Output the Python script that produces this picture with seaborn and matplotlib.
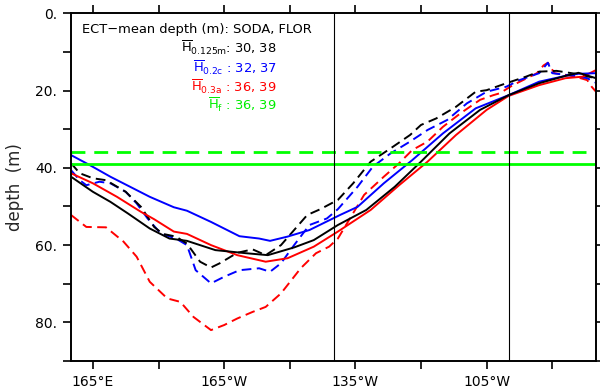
import matplotlib
matplotlib.use("Agg")
import matplotlib.pyplot as plt
import seaborn as sns
import pandas as pd

# ---------------- data (longitude in degrees east, depth in m) ----------------
lon_flor_h0125 = [160, 165, 169, 173, 178, 182.5, 186.5, 193, 200, 205, 211, 215.5, 221,
                  227.5, 234, 240, 246.5, 253.5, 260, 267, 273, 276, 280]
dep_flor_h0125 = [42.3, 46.2, 48.8, 51.8, 55.7, 58.3, 58.9, 61.3, 62.1, 62.6, 60.6, 58.7, 54.8,
                  50.9, 44.9, 38.4, 31.1, 25.0, 21.2, 18.1, 16.2, 15.4, 16.8]

lon_flor_h02c = [160, 164.3, 169, 173.5, 178, 183.5, 186.5, 192, 198.5, 203, 205.5, 209.5, 214.5,
                 221.5, 225.5, 231.5, 238, 245, 252.5, 260, 267, 275, 280]
dep_flor_h02c = [36.7, 39.3, 42.3, 44.9, 47.5, 50.2, 51.1, 54.0, 57.7, 58.3, 58.9, 57.8, 56.1,
                 52.2, 50.1, 44.0, 38.0, 31.1, 24.6, 21.2, 17.7, 15.7, 15.5]

lon_flor_h03a = [160, 165, 170.5, 176, 179, 183.5, 186.5, 192, 198, 204.5, 209.5, 215.5, 221,
                 228.5, 235, 241.5, 248, 255, 260, 267, 273, 277, 280]
dep_flor_h03a = [41.4, 44.0, 47.5, 51.4, 53.3, 56.5, 57.1, 60.0, 62.6, 64.3, 63.4, 60.4, 56.5,
                 50.9, 44.5, 38.4, 31.5, 25.0, 21.4, 18.6, 16.8, 16.4, 14.7]

lon_soda_h0125 = [160, 162, 165, 168, 172.5, 176, 179, 181, 184, 186.5, 189.5, 192, 194, 198,
                  201.5, 204.5, 208, 214, 217, 221, 224.5, 228.5, 233, 237.5, 240, 243.5, 248,
                  252.5, 255, 259.5, 264, 267, 271, 275, 280]
dep_soda_h0125 = [38.8, 41.4, 42.7, 43.2, 46.2, 50.1, 55.3, 57.1, 57.8, 59.6, 64.3, 65.8, 64.7, 62.0,
                  61.1, 62.6, 60.0, 52.2, 50.7, 48.3, 44.0, 38.4, 35.0, 31.5, 28.9, 27.2, 24.2,
                  20.3, 19.9, 18.1, 16.4, 15.1, 14.9, 15.6, 16.8]

lon_soda_h02c = [160, 162, 163.5, 166.5, 169, 172.5, 175, 177.5, 180.5, 184, 186.5, 188.5, 192,
                 195, 198.5, 203, 205.5, 208, 211, 214.5, 218.5, 221, 225.5, 229, 233, 237.5,
                 241.5, 246, 250.5, 255, 259.5, 262.5, 267, 269, 270, 275, 278, 280]
dep_soda_h02c = [40.6, 43.2, 44.5, 43.6, 44.0, 46.2, 49.2, 53.1, 57.0, 58.3, 60.0, 66.5, 69.9,
                 68.2, 66.5, 66.0, 66.9, 64.7, 60.0, 54.8, 53.1, 50.7, 44.9, 39.7, 36.3, 33.2,
                 30.2, 27.6, 23.3, 20.3, 19.0, 17.3, 15.5, 12.8, 15.5, 16.2, 16.8, 18.0]

lon_soda_h03a = [160, 163.5, 168, 172, 175, 178, 182, 185, 188, 192, 195, 198, 201.5, 204.5,
                 208, 212.5, 216, 219, 221, 227, 231.5, 235, 238, 241.5, 245, 249, 253.5,
                 256.5, 258, 261, 266.5, 268, 269, 270.5, 275, 278, 279, 280]
dep_soda_h03a = [52.2, 55.3, 55.4, 59.1, 63.0, 69.5, 73.8, 74.7, 78.6, 82.0, 80.7, 79.0, 77.3, 76.0,
                 72.5, 66.0, 62.1, 60.4, 58.3, 47.0, 42.3, 38.8, 35.4, 33.2, 29.4, 25.9, 22.4,
                 21.2, 20.7, 18.6, 15.5, 13.5, 12.8, 15.5, 16.3, 17.3, 19.0, 20.3]

hf_soda = 36
hf_flor = 39
vlines_lon = [220, 260]

legend_header = "ECT\u2212mean depth (m): SODA, FLOR"
legend_rows = [r"$\overline{\mathrm{H}}_{\mathrm{0.125m}}$: 30, 38",
               r"$\overline{\mathrm{H}}_{\mathrm{0.2c}}$ : 32, 37",
               r"$\overline{\mathrm{H}}_{\mathrm{0.3a}}$ : 36, 39",
               r"$\overline{\mathrm{H}}_{\mathrm{f}}$ : 36, 39"]
legend_colors = ["black", "#0000ff", "#ff0000", "#00ee00"]

xtick_pos = [165, 180, 195, 210, 225, 240, 255, 270]
xtick_lab = ["165\u00b0E", "", "165\u00b0W", "", "135\u00b0W", "", "105\u00b0W", ""]
ytick_pos = [0, 10, 20, 30, 40, 50, 60, 70, 80, 90]
ytick_lab = ["0.", "", "20.", "", "40.", "", "60.", "", "80.", ""]

# ---------------- plotting ----------------
sns.set_theme(style="ticks")
plt.rcParams["font.family"] = ["DejaVu Sans"]
plt.rcParams["mathtext.fontset"] = "dejavusans"

fig = plt.figure(figsize=(6.0, 3.91), dpi=100)
ax = fig.add_axes([71 / 600, 1 - 361 / 391, 525 / 600, 347.7 / 391])

DASH = (0, (5.0, 2.8))
series = [
    (lon_soda_h03a, dep_soda_h03a, "#ff0000", DASH),
    (lon_soda_h02c, dep_soda_h02c, "#0000ff", DASH),
    (lon_soda_h0125, dep_soda_h0125, "black", DASH),
    (lon_flor_h03a, dep_flor_h03a, "#ff0000", "-"),
    (lon_flor_h02c, dep_flor_h02c, "#0000ff", "-"),
    (lon_flor_h0125, dep_flor_h0125, "black", "-"),
]
for lons, deps, col, ls in series:
    df = pd.DataFrame({"lon": lons, "depth": deps})
    sns.lineplot(data=df, x="lon", y="depth", color=col, linestyle=ls, linewidth=1.4,
                 ax=ax, sort=False, estimator=None)

ax.axhline(hf_soda, color="#00ff00", linewidth=2.0, linestyle=(0, (5, 3.2)))
ax.axhline(hf_flor, color="#00ff00", linewidth=2.0)
for v in vlines_lon:
    ax.axvline(v, color="black", linewidth=0.8)

ax.set_xlim(160, 280)
ax.set_ylim(90, 0)
ax.set_xticks(xtick_pos)
ax.set_xticklabels(xtick_lab)
ax.set_yticks(ytick_pos)
ax.set_yticklabels(ytick_lab)
ax.tick_params(axis="both", which="major", direction="out", length=6, width=1.2,
               top=True, right=True, labelsize=10, pad=4, colors="black")
ax.set_xlabel("")
ax.set_ylabel("depth  (m)", fontsize=12, labelpad=8)
for s in ax.spines.values():
    s.set_visible(True)
    s.set_linewidth(1.4)
    s.set_color("black")

ax.text(0.021, 0.943, legend_header, transform=ax.transAxes, fontsize=9.4,
        ha="left", va="baseline", color="black")
row_y = [0.886, 0.829, 0.774, 0.722]
for txt, col, yy in zip(legend_rows, legend_colors, row_y):
    ax.text(0.392, yy, txt, transform=ax.transAxes, fontsize=9.4, ha="right",
            va="baseline", color=col)

fig.savefig("out.png", dpi=100)
